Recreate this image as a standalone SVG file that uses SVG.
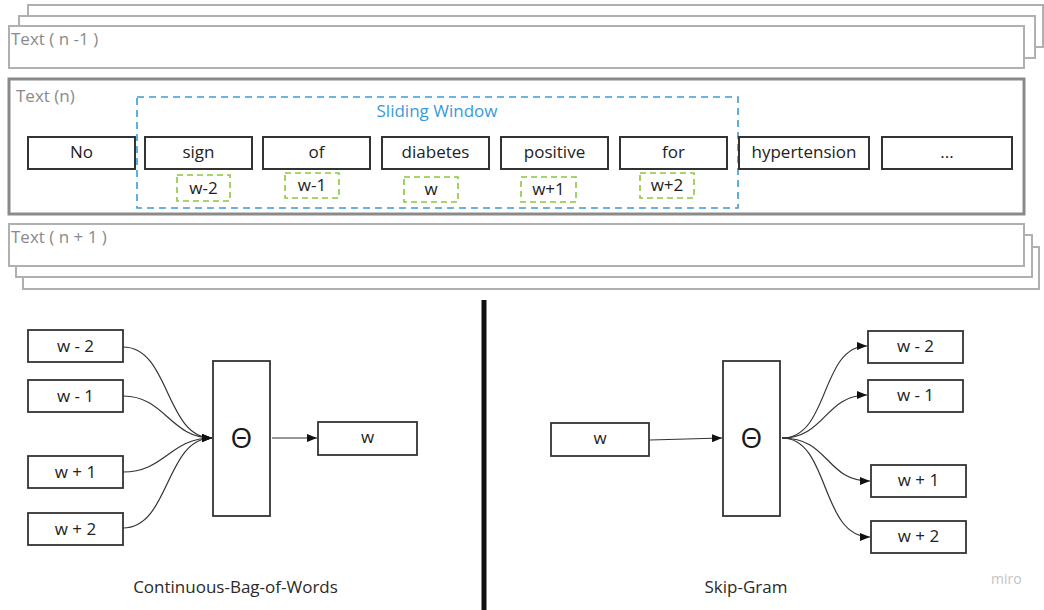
<svg xmlns="http://www.w3.org/2000/svg" width="1044" height="610" viewBox="0 0 1044 610">
  <style>
    .sheet { fill: #ffffff; stroke: #b0b0b0; stroke-width: 2; }
    .frame { fill: #ffffff; stroke: #8a8a8a; stroke-width: 3; }
    .caption { font-family: "Open Sans", "Liberation Sans", sans-serif; font-size: 17px; fill: #8a8a8a; }
    .word { fill: #ffffff; stroke: #333333; stroke-width: 2; }
    .label { font-family: "Open Sans", "Liberation Sans", sans-serif; font-size: 17px; fill: #222222; text-anchor: middle; }
    .window { fill: none; stroke: #3a9ad9; stroke-width: 1.6; stroke-dasharray: 7 5; }
    .window-title { font-family: "Open Sans", "Liberation Sans", sans-serif; font-size: 17px; fill: #3a9ad9; text-anchor: middle; }
    .slot { fill: none; stroke: #8cc63f; stroke-width: 1.6; stroke-dasharray: 6 4; }
    .box { fill: #ffffff; stroke: #333333; stroke-width: 1.8; }
    .theta { font-family: "Open Sans", "Liberation Sans", sans-serif; font-size: 28px; fill: #1a1a1a; text-anchor: middle; }
    .edge { fill: none; stroke: #333333; stroke-width: 1.2; }
    .title { font-family: "Open Sans", "Liberation Sans", sans-serif; font-size: 17px; fill: #2a2a2a; text-anchor: middle; }
    .brand { font-family: "Open Sans", "Liberation Sans", sans-serif; font-size: 14px; fill: #c4c4c4; }
  </style>
  <defs>
    <marker id="arrow" viewBox="0 0 10 8" refX="10" refY="4" markerWidth="10" markerHeight="8" markerUnits="userSpaceOnUse" orient="auto">
      <path d="M0,0 L10,4 L0,8 Z" fill="#111111"/>
    </marker>
  </defs>

  <rect width="1044" height="610" fill="#ffffff"/>

  <!-- previous text: stacked sheets -->
  <g id="text-prev">
    <rect class="sheet" x="28" y="5" width="1015" height="42"/>
    <rect class="sheet" x="19" y="16" width="1016" height="42"/>
    <rect class="sheet" x="9" y="26" width="1015" height="42"/>
    <text class="caption" x="11" y="45">Text ( n -1 )</text>
  </g>

  <!-- current text -->
  <g id="text-current">
    <rect class="frame" x="9" y="79" width="1015" height="135"/>
    <text class="caption" x="16" y="102">Text (n)</text>
  </g>

  <g id="sliding-window">
    <rect class="window" x="137" y="97" width="601" height="111"/>
    <text class="window-title" x="437" y="117">Sliding Window</text>
  </g>

  <g id="word-no">
    <rect class="word" x="28" y="137" width="107" height="32"/>
    <text class="label" x="81.5" y="158">No</text>
  </g>
  <g id="word-sign">
    <rect class="word" x="145" y="137" width="107" height="32"/>
    <text class="label" x="198.5" y="158">sign</text>
  </g>
  <g id="word-of">
    <rect class="word" x="263" y="137" width="107" height="32"/>
    <text class="label" x="316.5" y="158">of</text>
  </g>
  <g id="word-diabetes">
    <rect class="word" x="382" y="137" width="107" height="32"/>
    <text class="label" x="435.5" y="158">diabetes</text>
  </g>
  <g id="word-positive">
    <rect class="word" x="501" y="137" width="107" height="32"/>
    <text class="label" x="554.5" y="158">positive</text>
  </g>
  <g id="word-for">
    <rect class="word" x="620" y="137" width="107" height="32"/>
    <text class="label" x="673.5" y="158">for</text>
  </g>
  <g id="word-hypertension">
    <rect class="word" x="739" y="137" width="130" height="32"/>
    <text class="label" x="804" y="158">hypertension</text>
  </g>
  <g id="word-more">
    <rect class="word" x="882" y="137" width="130" height="32"/>
    <text class="label" x="947" y="158">...</text>
  </g>

  <!-- position tags -->
  <g id="tag-w-2">
    <rect class="slot" x="177" y="175" width="53" height="26"/>
    <text class="label" x="203.5" y="194">w-2</text>
  </g>
  <g id="tag-w-1">
    <rect class="slot" x="285" y="173" width="54" height="25"/>
    <text class="label" x="312" y="191">w-1</text>
  </g>
  <g id="tag-w">
    <rect class="slot" x="404" y="177" width="54" height="25"/>
    <text class="label" x="431" y="195">w</text>
  </g>
  <g id="tag-w+1">
    <rect class="slot" x="521" y="177" width="55" height="25"/>
    <text class="label" x="548.5" y="195">w+1</text>
  </g>
  <g id="tag-w+2">
    <rect class="slot" x="640" y="173" width="54" height="25"/>
    <text class="label" x="667" y="191">w+2</text>
  </g>

  <!-- next text: stacked sheets -->
  <g id="text-next">
    <rect class="sheet" x="23" y="247" width="1016" height="42"/>
    <rect class="sheet" x="16" y="235" width="1016" height="42"/>
    <rect class="sheet" x="9" y="224" width="1015" height="42"/>
    <text class="caption" x="11" y="243">Text ( n + 1 )</text>
  </g>

  <!-- divider between the two models -->
  <rect id="divider" x="481.5" y="300" width="5" height="310" fill="#111111"/>

  <!-- CBOW -->
  <g id="cbow-w-2">
    <rect class="box" x="28" y="330" width="95" height="32"/>
    <text class="label" x="75.5" y="352">w - 2</text>
  </g>
  <g id="cbow-w-1">
    <rect class="box" x="28" y="380" width="95" height="32"/>
    <text class="label" x="75.5" y="402">w - 1</text>
  </g>
  <g id="cbow-w+1">
    <rect class="box" x="28" y="456" width="95" height="32"/>
    <text class="label" x="75.5" y="478">w + 1</text>
  </g>
  <g id="cbow-w+2">
    <rect class="box" x="28" y="513" width="95" height="32"/>
    <text class="label" x="75.5" y="535">w + 2</text>
  </g>
  <g id="cbow-theta">
    <rect class="box" x="213" y="361" width="57" height="155"/>
    <text class="theta" x="241.5" y="448">Θ</text>
  </g>
  <g id="cbow-w">
    <rect class="box" x="318" y="422" width="99" height="33"/>
    <text class="label" x="367.5" y="443">w</text>
  </g>
  <text id="cbow-title" class="title" x="235.5" y="593">Continuous-Bag-of-Words</text>

  <!-- Skip-Gram -->
  <g id="sg-w">
    <rect class="box" x="551" y="423" width="98" height="33"/>
    <text class="label" x="600" y="444">w</text>
  </g>
  <g id="sg-theta">
    <rect class="box" x="723" y="361" width="57" height="155"/>
    <text class="theta" x="751.5" y="448">Θ</text>
  </g>
  <g id="sg-w-2">
    <rect class="box" x="868" y="331" width="95" height="32"/>
    <text class="label" x="915.5" y="352">w - 2</text>
  </g>
  <g id="sg-w-1">
    <rect class="box" x="868" y="380" width="95" height="32"/>
    <text class="label" x="915.5" y="401">w - 1</text>
  </g>
  <g id="sg-w+1">
    <rect class="box" x="871" y="465" width="95" height="32"/>
    <text class="label" x="918.5" y="486">w + 1</text>
  </g>
  <g id="sg-w+2">
    <rect class="box" x="871" y="521" width="95" height="32"/>
    <text class="label" x="918.5" y="542">w + 2</text>
  </g>
  <text id="sg-title" class="title" x="746" y="593">Skip-Gram</text>

  <!-- connectors -->
  <g id="connectors">
    <path class="edge" d="M123,347 C170,347 165,438 212,438" marker-end="url(#arrow)"/>
    <path class="edge" d="M123,396 C165,396 170,438 212,438" marker-end="url(#arrow)"/>
    <path class="edge" d="M123,472 C165,472 170,438 212,438" marker-end="url(#arrow)"/>
    <path class="edge" d="M123,528 C170,528 165,438 212,438" marker-end="url(#arrow)"/>
    <path class="edge" d="M272,438 L317,438" marker-end="url(#arrow)"/>
    <path class="edge" d="M650,440 L722,438" marker-end="url(#arrow)"/>
    <path class="edge" d="M782,438 C830,438 820,346 867,346" marker-end="url(#arrow)"/>
    <path class="edge" d="M782,438 C825,438 825,395 867,395" marker-end="url(#arrow)"/>
    <path class="edge" d="M782,438 C830,438 825,481 870,481" marker-end="url(#arrow)"/>
    <path class="edge" d="M782,438 C830,438 820,537 870,537" marker-end="url(#arrow)"/>
  </g>

  <text id="brand" class="brand" x="991" y="584">miro</text>
</svg>
